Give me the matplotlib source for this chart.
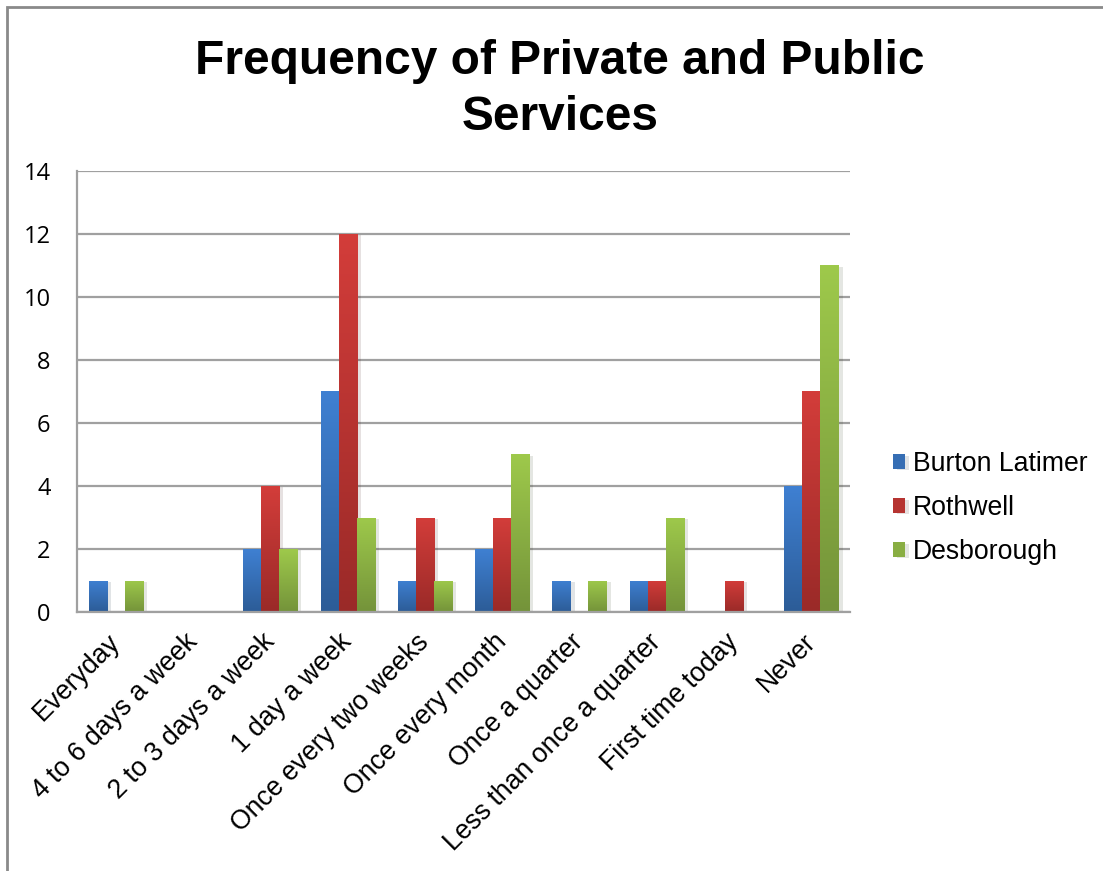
import numpy as np
import matplotlib
matplotlib.use("Agg")
import matplotlib.pyplot as plt
from matplotlib.colors import to_rgb
from matplotlib.patches import Rectangle
from matplotlib.transforms import ScaledTranslation
import matplotlib.patheffects as pe

categories = ["Everyday", "4 to 6 days a week", "2 to 3 days a week", "1 day a week",
              "Once every two weeks", "Once every month", "Once a quarter",
              "Less than once a quarter", "First time today", "Never"]
burton = [1, 0, 2, 7, 1, 2, 1, 1, 0, 4]
rothwell = [0, 0, 4, 12, 3, 3, 0, 1, 1, 7]
desborough = [1, 0, 2, 3, 1, 5, 1, 3, 0, 11]
series_names = ["Burton Latimer", "Rothwell", "Desborough"]

# top / bottom colours of the gradient fill
grads = [("#3f80d2", "#2c5c97"), ("#d33d3a", "#9a2a28"), ("#9ec94b", "#74933a")]

fig = plt.figure(figsize=(11.03, 8.71), dpi=100)
ax = fig.add_axes([77 / 1103, 1 - 612 / 871, (850 - 77) / 1103, (612 - 171) / 871])

x = np.arange(len(categories))
w = 0.233
grid_c = "#a0a0a0"


def gradient_fill(bar, top, bottom):
    x0, y0 = bar.get_x(), bar.get_y()
    bw, bh = bar.get_width(), bar.get_height()
    if bh <= 0:
        return
    t, b = np.array(to_rgb(top)), np.array(to_rgb(bottom))
    f = np.linspace(0, 1, 128)[:, None, None]
    img = t * (1 - f) + b * f
    im = ax.imshow(img, extent=(x0, x0 + bw, y0, y0 + bh), aspect="auto",
                   origin="upper", zorder=3, interpolation="bilinear")
    im.set_clip_path(bar)


handles = []
for i, vals in enumerate([burton, rothwell, desborough]):
    top, bottom = grads[i]
    mid = tuple((np.array(to_rgb(top)) + np.array(to_rgb(bottom))) / 2)
    bars = ax.bar(x + (i - 1) * w, vals, w, color=mid, zorder=2, label=series_names[i],
                  path_effects=[pe.SimplePatchShadow(offset=(3, -1), alpha=0.12), pe.Normal()])
    for b in bars:
        gradient_fill(b, top, bottom)
    handles.append(bars)

ax.set_xlim(-0.5, len(categories) - 0.5)
ax.set_ylim(0, 14)
ax.set_yticks(range(0, 15, 2))
ax.yaxis.grid(True, color=grid_c, linewidth=1.6, zorder=0)
ax.set_axisbelow(True)
for s in ["top", "right"]:
    ax.spines[s].set_visible(False)
for s in ["left", "bottom"]:
    ax.spines[s].set_color(grid_c)
    ax.spines[s].set_linewidth(1.6)
ax.spines["bottom"].set_zorder(4)

ax.tick_params(axis="y", length=0, pad=19)
ax.tick_params(axis="x", length=0, pad=13)
for lab in ax.get_yticklabels():
    lab.set_fontfamily("Open Sans")
    lab.set_fontsize(17)
ax.set_xticks(x)
ax.set_xticklabels(categories, rotation=45, ha="right", va="top", rotation_mode="anchor",
                   fontsize=19.2, fontfamily="Liberation Sans")
shift = ScaledTranslation(-9 / 100, 1 / 100, fig.dpi_scale_trans)
for lab in ax.get_xticklabels():
    lab.set_transform(lab.get_transform() + shift)

fig.text(560 / 1103, 1 - 39 / 871, "Frequency of Private and Public\nServices",
         ha="center", va="top", fontsize=34.5, fontweight="bold",
         fontfamily="Liberation Sans", linespacing=1.32)

leg = fig.legend(handles=handles, loc="center left", bbox_to_anchor=(893 / 1103, 1 - 508 / 871),
                 frameon=False, prop={"family": "Liberation Sans", "size": 19.2},
                 handlelength=0.45, handleheight=0.45, handletextpad=0.3, labelspacing=0.68,
                 borderpad=0, borderaxespad=0)

# outer chart border (only left and top edges visible)
fig.add_artist(Rectangle((7 / 1103, -0.1), 1.2, 1.1 - 7 / 871, transform=fig.transFigure,
                         fill=False, edgecolor="#8a8a8a", linewidth=2))

fig.savefig("out.png", dpi=100)
